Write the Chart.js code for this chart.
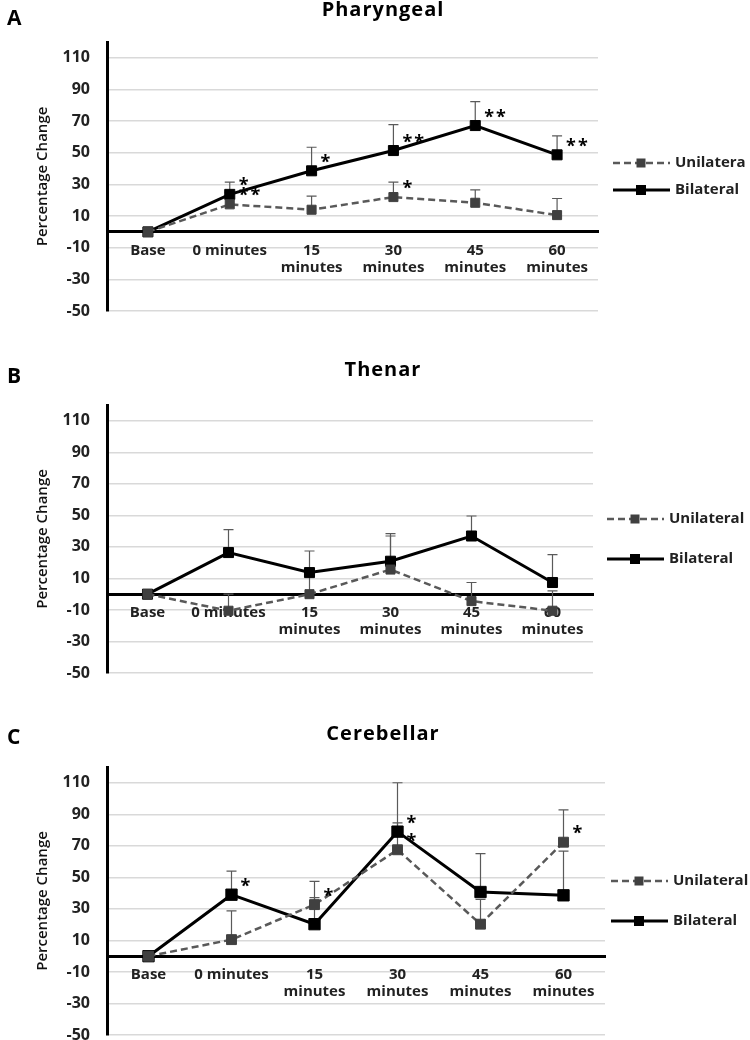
<!DOCTYPE html>
<html>
<head>
<meta charset="utf-8">
<script src="https://cdn.jsdelivr.net/npm/chart.js@4.4.1/dist/chart.umd.min.js"></script>
<style>
  body { margin: 0; width: 750px; height: 1040px; overflow: hidden; background: #fff; position: relative; }
  canvas { position: absolute; left: 0; }
</style>
</head>
<body>
<canvas id="chartA" width="750" height="323" style="top:0px"></canvas>
<canvas id="chartB" width="750" height="345" style="top:340px"></canvas>
<canvas id="chartC" width="750" height="347" style="top:700px"></canvas>
<script>
// categorias e ticks
const categories = ['Base', '0 minutes', ['15', 'minutes'], ['30', 'minutes'], ['45', 'minutes'], ['60', 'minutes']];
const yTicks = [-50, -30, -10, 10, 30, 50, 70, 90, 110];

// A - Pharyngeal
const pharUni = [0, 17.4, 14, 22, 18.4, 10.6];
const pharUniErr = [null, 25, 22.6, 31.4, 26.6, 21.1];
const pharUniStars = ['', '**', '', '*', '', ''];
const pharBil = [0, 23.7, 38.6, 51.4, 67.2, 48.7];
const pharBilErr = [null, 31.4, 53.5, 67.8, 82.3, 60.7];
const pharBilStars = ['', '*', '*', '**', '**', '**'];

// B - Thenar
const thenUni = [0, -10.5, 0, 15.6, -4.4, -10.5];
const thenUniErr = [null, 0, 12, 36.9, 7.4, 2.1];
const thenUniStars = ['', '', '', '', '', ''];
const thenBil = [0, 26.4, 13.7, 20.9, 36.9, 7.4];
const thenBilErr = [null, 41, 27.4, 38.4, 49.6, 25.1];
const thenBilStars = ['', '', '', '', '', ''];

// C - Cerebellar
const cereUni = [0, 10.5, 32.7, 67.5, 20.3, 72.3];
const cereUniErr = [null, 28.7, 47.5, 84.6, 36, 92.8];
const cereUniStars = ['', '', '*', '*', '', '*'];
const cereBil = [0, 39, 20.3, 79, 40.7, 38.6];
const cereBilErr = [null, 54, 37.1, 110, 65, 66.7];
const cereBilStars = ['', '*', '', '*', '', ''];

const FONT = '"Open Sans", sans-serif';
const TEXT = '#222';

// desenha barras de erro, asteriscos, título, letra e legenda
function extrasPlugin(p) {
    return {
        id: 'extras',
        beforeDatasetsDraw(chart) {
            const ctx = chart.ctx;
            const y = chart.scales.y;
            ctx.save();
            ctx.strokeStyle = '#5a5a5a';
            ctx.lineWidth = 1.2;
            chart.data.datasets.forEach((ds, i) => {
                const meta = chart.getDatasetMeta(i);
                ds.errs.forEach((v, j) => {
                    if (v === null) return;
                    const pt = meta.data[j];
                    const top = y.getPixelForValue(v);
                    ctx.beginPath();
                    ctx.moveTo(pt.x, pt.y);
                    ctx.lineTo(pt.x, top);
                    ctx.moveTo(pt.x - 5, top);
                    ctx.lineTo(pt.x + 5, top);
                    ctx.stroke();
                });
            });
            ctx.restore();
        },
        afterDatasetsDraw(chart) {
            const ctx = chart.ctx;
            ctx.save();
            ctx.fillStyle = '#000';
            ctx.font = 'bold 18px ' + FONT;
            ctx.textBaseline = 'alphabetic';
            ctx.textAlign = 'left';
            ctx.letterSpacing = '2px';
            chart.data.datasets.forEach((ds, i) => {
                const meta = chart.getDatasetMeta(i);
                ds.stars.forEach((s, j) => {
                    if (!s) return;
                    const pt = meta.data[j];
                    ctx.fillText(s, pt.x + 9, pt.y - 3);
                });
            });
            ctx.restore();
        },
        afterDraw(chart) {
            const ctx = chart.ctx;
            ctx.save();
            ctx.fillStyle = '#000';
            ctx.textBaseline = 'alphabetic';
            ctx.font = 'bold 21px ' + FONT;
            ctx.textAlign = 'left';
            ctx.fillText(p.letter, 7, p.letterY);
            ctx.font = 'bold 20px ' + FONT;
            ctx.textAlign = 'center';
            ctx.letterSpacing = '1px';
            ctx.fillText(p.title, 383, p.titleY);
            ctx.letterSpacing = '0px';

            // legenda
            chart.data.datasets.forEach((ds, i) => {
                const ly = p.legendY[i];
                const x0 = p.legendX;
                ctx.strokeStyle = ds.borderColor;
                ctx.lineWidth = ds.borderWidth;
                ctx.setLineDash(ds.borderDash || []);
                ctx.beginPath();
                ctx.moveTo(x0, ly);
                ctx.lineTo(x0 + 57, ly);
                ctx.stroke();
                ctx.setLineDash([]);
                const s = ds.legendBox;
                ctx.fillStyle = ds.pointBackgroundColor;
                ctx.fillRect(x0 + 28 - s / 2, ly - s / 2, s, s);
                ctx.fillStyle = TEXT;
                ctx.font = 'bold 15px ' + FONT;
                ctx.textAlign = 'left';
                ctx.textBaseline = 'middle';
                ctx.fillText(p.labels[i], x0 + 62, ly);
            });
            ctx.restore();
        }
    };
}

function makePanel(id, p) {
    const ctx = document.getElementById(id).getContext('2d');
    new Chart(ctx, {
        type: 'line',
        data: {
            labels: categories,
            datasets: [{
                label: p.labels[0],
                data: p.uni,
                errs: p.uniErr,
                stars: p.uniStars,
                borderColor: '#595959',
                borderWidth: 2.5,
                borderDash: [7, 4],
                pointStyle: 'rect',
                pointRadius: p.uniR,
                pointBackgroundColor: '#404040',
                pointBorderColor: '#404040',
                pointBorderWidth: 1,
                legendBox: 9,
                tension: 0
            }, {
                label: p.labels[1],
                data: p.bil,
                errs: p.bilErr,
                stars: p.bilStars,
                borderColor: '#000',
                borderWidth: 3,
                pointStyle: 'rect',
                pointRadius: p.bilR,
                pointBackgroundColor: '#000',
                pointBorderColor: '#000',
                pointBorderWidth: 1,
                legendBox: 10,
                tension: 0
            }]
        },
        options: {
            responsive: false,
            animation: false,
            layout: { padding: { top: p.padTop, right: p.padRight, bottom: 12, left: 0 } },
            plugins: {
                legend: { display: false },
                tooltip: { enabled: false },
                title: { display: false }
            },
            scales: {
                x: {
                    type: 'category',
                    position: { y: 0 },
                    offset: true,
                    grid: { display: false, drawTicks: false },
                    border: { display: true, color: '#000', width: 3 },
                    ticks: {
                        color: TEXT,
                        font: { family: FONT, size: 15, weight: 'bold', lineHeight: 1.15 },
                        padding: 10,
                        maxRotation: 0,
                        autoSkip: false
                    },
                    afterFit(s) { s.paddingLeft = 0; s.paddingRight = 0; }
                },
                y: {
                    min: -50,
                    max: 120,
                    afterBuildTicks(s) { s.ticks = yTicks.map(v => ({ value: v })); },
                    grid: { color: '#d9d9d9', lineWidth: 1.5, drawTicks: false },
                    border: { display: true, color: '#000', width: 3 },
                    ticks: {
                        color: TEXT,
                        font: { family: FONT, size: 16, weight: 'bold' },
                        padding: 17
                    },
                    title: {
                        display: true,
                        text: 'Percentage Change',
                        color: '#111',
                        font: { family: FONT, size: 15, weight: '600' },
                        padding: { top: 34, bottom: 0 }
                    },
                    afterFit(s) { s.width = 107; s.paddingTop = 0; s.paddingBottom = 0; }
                }
            }
        },
        plugins: [extrasPlugin(p)]
    });
}

makePanel('chartA', {
    letter: 'A', title: 'Pharyngeal', letterY: 25, titleY: 16,
    labels: ['Unilatera', 'Bilateral'], legendX: 613, legendY: [163, 190],
    padTop: 42, padRight: 152, uniR: 6.4, bilR: 7.1,
    uni: pharUni, uniErr: pharUniErr, uniStars: pharUniStars,
    bil: pharBil, bilErr: pharBilErr, bilStars: pharBilStars
});

makePanel('chartB', {
    letter: 'B', title: 'Thenar', letterY: 43, titleY: 36,
    labels: ['Unilateral', 'Bilateral'], legendX: 607, legendY: [179, 219],
    padTop: 65, padRight: 157, uniR: 6.4, bilR: 7.1,
    uni: thenUni, uniErr: thenUniErr, uniStars: thenUniStars,
    bil: thenBil, bilErr: thenBilErr, bilStars: thenBilStars
});

makePanel('chartC', {
    letter: 'C', title: 'Cerebellar', letterY: 44, titleY: 40,
    labels: ['Unilateral', 'Bilateral'], legendX: 611, legendY: [181, 221],
    padTop: 67, padRight: 145, uniR: 7, bilR: 8,
    uni: cereUni, uniErr: cereUniErr, uniStars: cereUniStars,
    bil: cereBil, bilErr: cereBilErr, bilStars: cereBilStars
});
</script>
</body>
</html>
